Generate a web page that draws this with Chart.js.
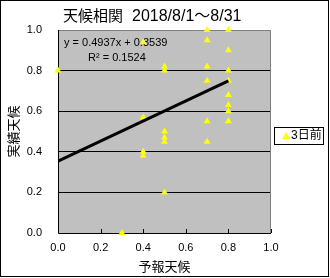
<!DOCTYPE html>
<html>
<head>
<meta charset="utf-8">
<script src="https://cdn.jsdelivr.net/npm/chart.js@4"></script>
<style>
  body { margin: 0; background: #fff; }
  canvas { display: block; }
</style>
</head>
<body>
<canvas id="chart" width="330" height="278"></canvas>
<script>
// 予報天候 (x) vs 実績天候 (y), 2018/8/1-8/31
const forecastX = [0.0, 0.3, 0.4, 0.4, 0.4, 0.4, 0.5, 0.5, 0.5, 0.5, 0.5, 0.5,
                   0.7, 0.7, 0.7, 0.7, 0.7, 0.7, 0.8, 0.8, 0.8, 0.8, 0.8, 0.8, 0.8, 0.8];
const actualY   = [0.80, 0.00, 0.94, 0.57, 0.40, 0.38, 0.82, 0.80, 0.50, 0.47, 0.45, 0.20,
                   1.00, 0.95, 0.82, 0.75, 0.55, 0.45, 1.00, 0.90, 0.80, 0.75, 0.68, 0.63, 0.60, 0.55];
const seriesName = '3日前';
const slope = 0.4937;
const intercept = 0.3539;
const rSquared = 0.1524;
const axisTicks = [0, 0.2, 0.4, 0.6, 0.8, 1.0];

const FONT = "'Liberation Sans', 'Noto Sans CJK JP', sans-serif";

const points = forecastX.map((x, i) => ({ x: x, y: actualY[i] }));
const xMin = Math.min(...forecastX), xMax = Math.max(...forecastX);
const trend = [
  { x: xMin, y: slope * xMin + intercept },
  { x: xMax, y: slope * xMax + intercept }
];

// gray plot area, border, inward x ticks, equation text
const plotDeco = {
  id: 'plotDeco',
  beforeDraw(chart) {
    const { ctx, chartArea: a } = chart;
    ctx.save();
    ctx.fillStyle = '#fff';
    ctx.fillRect(0, 0, chart.width, chart.height);
    ctx.fillStyle = '#c0c0c0';
    ctx.fillRect(a.left, a.top, a.right - a.left, a.bottom - a.top);
    ctx.restore();
  },
  beforeDatasetsDraw(chart) {
    const { ctx, chartArea: a, scales } = chart;
    ctx.save();
    ctx.strokeStyle = '#808080';
    ctx.lineWidth = 1;
    ctx.beginPath();
    ctx.moveTo(a.left, a.top + 0.5);
    ctx.lineTo(a.right - 0.5, a.top + 0.5);
    ctx.lineTo(a.right - 0.5, a.bottom);
    ctx.stroke();
    ctx.strokeStyle = '#000';
    ctx.beginPath();
    ctx.moveTo(a.left + 0.5, a.top);
    ctx.lineTo(a.left + 0.5, a.bottom + 0.5);
    ctx.lineTo(a.right, a.bottom + 0.5);
    axisTicks.forEach(v => {
      const px = Math.round(scales.x.getPixelForValue(v)) + 0.5;
      ctx.moveTo(px, a.bottom);
      ctx.lineTo(px, a.bottom - 4);
    });
    ctx.stroke();
    ctx.fillStyle = '#000';
    ctx.font = '11px ' + FONT;
    ctx.textBaseline = 'middle';
    ctx.textAlign = 'left';
    ctx.fillText('y = ' + slope + 'x + ' + intercept, 64, 43);
    ctx.fillText('R\u00b2 = ' + rSquared, 88, 58);
    ctx.restore();
  },
  afterDraw(chart) {
    const { ctx } = chart;
    ctx.save();
    // title
    ctx.fillStyle = '#000';
    ctx.textBaseline = 'middle';
    ctx.textAlign = 'left';
    ctx.font = '15px ' + FONT;
    ctx.fillText('天候相関', 63, 17);
    ctx.font = '16px ' + FONT;
    ctx.fillText('2018/8/1～8/31', 132, 17);
    // legend
    ctx.fillStyle = '#fff';
    ctx.fillRect(274, 127, 49, 17);
    ctx.strokeStyle = '#000';
    ctx.lineWidth = 1;
    ctx.strokeRect(274.5, 127.5, 49, 17);
    ctx.fillStyle = '#ffff00';
    ctx.beginPath();
    ctx.moveTo(286, 132);
    ctx.lineTo(290, 139);
    ctx.lineTo(282, 139);
    ctx.closePath();
    ctx.fill();
    ctx.fillStyle = '#000';
    ctx.font = '12px ' + FONT;
    ctx.fillText(seriesName, 291, 136);
    // outer frame
    ctx.strokeRect(0.5, 0.5, 328, 276);
    ctx.restore();
  }
};

new Chart(document.getElementById('chart'), {
  type: 'scatter',
  data: {
    datasets: [
      {
        label: 'trend',
        type: 'line',
        data: trend,
        borderColor: '#000',
        borderWidth: 3,
        pointRadius: 0,
        fill: false,
        order: 0
      },
      {
        label: seriesName,
        data: points,
        pointStyle: 'triangle',
        pointRadius: 4,
        backgroundColor: '#ffff00',
        borderColor: '#ffff00',
        borderWidth: 0,
        clip: false,
        order: 1
      }
    ]
  },
  plugins: [plotDeco],
  options: {
    responsive: false,
    animation: false,
    layout: { padding: { left: 0, top: 30, right: 59, bottom: 0 } },
    plugins: { legend: { display: false }, tooltip: { enabled: false } },
    scales: {
      x: {
        type: 'linear',
        min: 0, max: 1,
        afterBuildTicks: s => { s.ticks = axisTicks.map(v => ({ value: v })); },
        afterFit: s => { s.height = 45; },
        grid: { display: false, drawTicks: false },
        border: { display: false },
        ticks: {
          padding: 8,
          color: '#000',
          font: { family: FONT, size: 11 },
          callback: v => v.toFixed(1)
        },
        title: {
          display: true,
          text: '予報天候',
          color: '#000',
          font: { family: FONT, size: 13 },
          padding: { top: 0, bottom: 3 }
        }
      },
      y: {
        type: 'linear',
        min: 0, max: 1,
        afterBuildTicks: s => { s.ticks = axisTicks.map(v => ({ value: v })); },
        afterFit: s => { s.width = 58; },
        grid: {
          drawTicks: false,
          lineWidth: 1,
          color: c => (c.tick && c.tick.value > 0.01 && c.tick.value < 0.99) ? '#000' : 'rgba(0,0,0,0)'
        },
        border: { display: false },
        ticks: {
          padding: 16,
          color: '#000',
          font: { family: FONT, size: 11 },
          callback: v => v.toFixed(1)
        },
        title: {
          display: true,
          text: '実績天候',
          color: '#000',
          font: { family: FONT, size: 13 },
          padding: { top: 7, bottom: 0 }
        }
      }
    }
  }
});
</script>
</body>
</html>
